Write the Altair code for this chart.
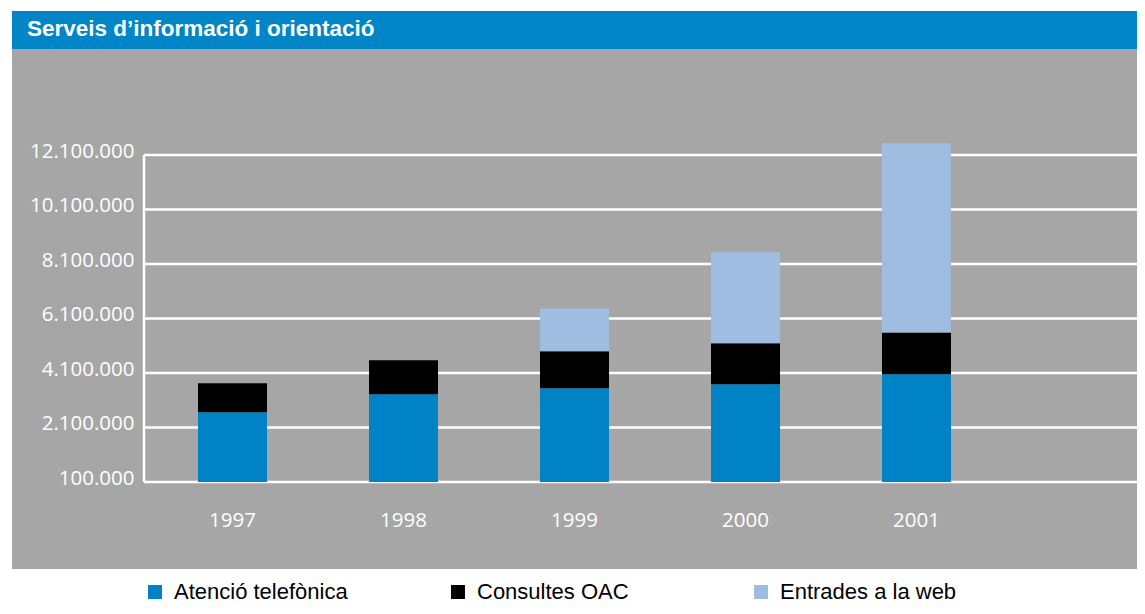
import altair as alt
import pandas as pd

# ---- data ----
years = ["1997", "1998", "1999", "2000", "2001"]
series_names = ["Atenció telefònica", "Consultes OAC", "Entrades a la web"]
atencio = [2660000, 3320000, 3540000, 3690000, 4050000]
consultes = [1060000, 1250000, 1360000, 1500000, 1540000]
web = [0, 0, 1570000, 3340000, 6940000]
y_ticks = [100000, 2100000, 4100000, 6100000, 8100000, 10100000, 12100000]
y_tick_labels = ["100.000", "2.100.000", "4.100.000", "6.100.000",
                 "8.100.000", "10.100.000", "12.100.000"]
title_text = ["Serveis d\u2019informació i orientació"]

# ---- styles ----
series_colors = ["#0082c6", "#000000", "#9fbde1"]
GRAY = "#a6a6a6"
BAR_BLUE = "#0085c6"
FONT = "Open Sans"

rows = []
for i, y in enumerate(years):
    for k, (name, vals) in enumerate(zip(series_names, [atencio, consultes, web])):
        rows.append({"year": y, "series": name, "value": vals[i], "order": k})
bars_df = pd.DataFrame(rows)
ticks_df = pd.DataFrame({"tick": y_ticks})
axis_df = pd.DataFrame({"lo": [min(y_ticks)], "hi": [max(y_ticks)]})
title_df = pd.DataFrame({"t": title_text})

W, H = 993, 433
yscale = alt.Scale(domain=[100000, 15990000], nice=False, zero=False)
label_expr = " : ".join(f"datum.value == {v} ? '{l}'" for v, l in zip(y_ticks, y_tick_labels)) + " : ''"
yaxis = alt.Axis(values=y_ticks, labelExpr=label_expr, grid=False, domain=False, ticks=False,
                 labelPadding=10, labelColor="white", labelFont=FONT, labelFontSize=20.5,
                 labelBaseline="alphabetic", labelOffset=2, title=None, zindex=1)

panel = alt.Chart(title_df).mark_rect(color=GRAY).encode(
    x=alt.value(-132), x2=alt.value(W), y=alt.value(0), y2=alt.value(520))
band = alt.Chart(title_df).mark_rect(color=BAR_BLUE).encode(
    x=alt.value(-132), x2=alt.value(W), y=alt.value(-38), y2=alt.value(0))
title = alt.Chart(title_df).mark_text(align="left", baseline="alphabetic", color="white",
                                      font="Liberation Sans", fontSize=22.5,
                                      fontWeight="bold").encode(
    x=alt.value(-117), y=alt.value(-13), text="t:N")

grid = alt.Chart(ticks_df).mark_rule(color="white", strokeWidth=2.5).encode(
    y=alt.Y("tick:Q", scale=yscale, axis=yaxis))
vline = alt.Chart(axis_df).mark_rule(color="white", strokeWidth=2.5).encode(
    x=alt.value(0), y=alt.Y("lo:Q", scale=yscale, axis=yaxis), y2="hi:Q")

bars = alt.Chart(bars_df).mark_bar(clip=True).encode(
    x=alt.X("year:N", sort=years,
            scale=alt.Scale(range=[54, 807], paddingInner=0.5965, paddingOuter=0),
            axis=alt.Axis(title=None, labelAngle=0, domain=False, ticks=False, grid=False,
                          labelColor="white", labelFont=FONT, labelFontSize=20.5,
                          labelBaseline="alphabetic", labelPadding=44, zindex=1)),
    y=alt.Y("value:Q", stack="zero", scale=yscale, axis=yaxis),
    color=alt.Color("series:N", sort=series_names,
                    scale=alt.Scale(domain=series_names, range=series_colors),
                    legend=alt.Legend(title=None, orient="none", legendX=0, legendY=532,
                                      direction="horizontal", columns=3, gridAlign="all",
                                      columnPadding=96, symbolType="square", symbolSize=196,
                                      symbolStrokeWidth=0, symbolOpacity=1,
                                      labelFont="Liberation Sans", labelFontSize=22,
                                      labelLimit=400,
                                      labelColor="black", labelOffset=8, padding=0)),
    order=alt.Order("order:Q"),
)

chart = alt.layer(panel, band, title, grid, vline, bars).properties(
    width=W, height=H,
    autosize=alt.AutoSizeParams(type="none"),
    padding={"left": 136, "top": 41, "right": 0, "bottom": 124},
).configure_view(stroke=None)

chart.save("out.html", embed_options={"renderer": "svg", "actions": False})
